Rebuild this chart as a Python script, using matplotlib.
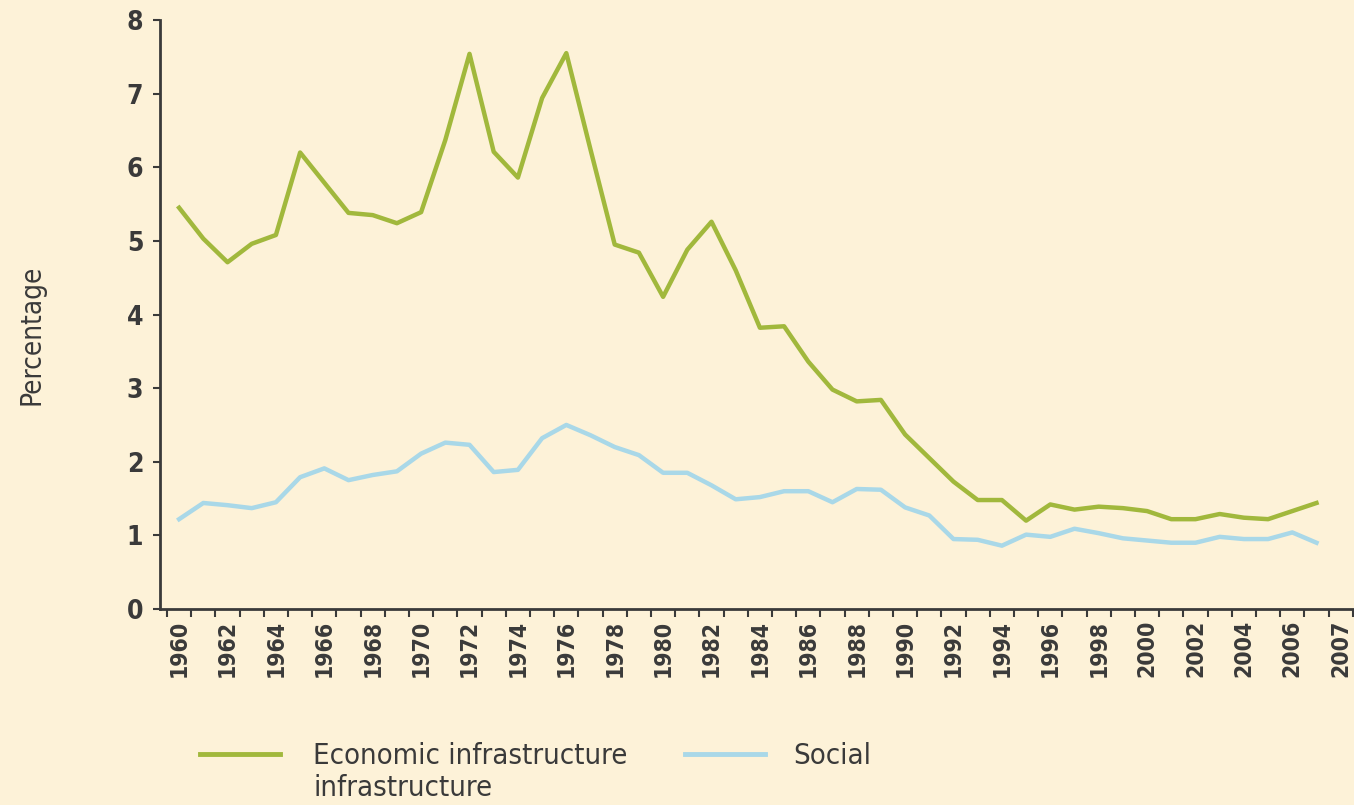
import numpy as np
import matplotlib
matplotlib.use("Agg")
import matplotlib.pyplot as plt
from matplotlib.lines import Line2D

plt.rcParams['font.family'] = ['DejaVu Sans']
plt.rcParams['font.stretch'] = 'condensed'

years = list(range(1960, 2008))
economic = [5.45, 5.03, 4.71, 4.96, 5.08, 6.20, 5.79, 5.38, 5.35, 5.24,
            5.39, 6.37, 7.54, 6.21, 5.86, 6.94, 7.55, 6.24, 4.95, 4.84,
            4.24, 4.88, 5.26, 4.60, 3.82, 3.84, 3.36, 2.98, 2.82, 2.84,
            2.37, 2.05, 1.73, 1.48, 1.48, 1.20, 1.42, 1.35, 1.39, 1.37,
            1.33, 1.22, 1.22, 1.29, 1.24, 1.22, 1.33, 1.44]
social = [1.22, 1.44, 1.41, 1.37, 1.45, 1.79, 1.91, 1.75, 1.82, 1.87,
          2.11, 2.26, 2.23, 1.86, 1.89, 2.32, 2.50, 2.36, 2.20, 2.09,
          1.85, 1.85, 1.68, 1.49, 1.52, 1.60, 1.60, 1.45, 1.63, 1.62,
          1.38, 1.27, 0.95, 0.94, 0.86, 1.01, 0.98, 1.09, 1.03, 0.96,
          0.93, 0.90, 0.90, 0.98, 0.95, 0.95, 1.04, 0.90]

tick_labels = [str(y) for y in range(1960, 2007, 2)] + ["2007"]
tick_pos = list(range(1960, 2007, 2)) + [2008]

labels = ["Economic infrastructure\ninfrastructure", "Social"]
bg = "#fdf2d8"
green = "#a1b83c"
blue = "#a9d8e8"
dark = "#3a3a3a"

W, H = 1354, 805
fig = plt.figure(figsize=(W / 100, H / 100), dpi=100, facecolor=bg)
ax = fig.add_axes([160 / W, 1 - 609 / H, 1 - 160 / W, (609 - 20) / H], facecolor=bg)

ax.plot(years, economic, color=green, lw=3.2)
ax.plot(years, social, color=blue, lw=3.2)

ax.set_ylim(0, 8)
ax.set_xlim(1959.21, 2008.55)
ax.set_yticks(range(0, 9))
ax.set_xticks(tick_pos)
ax.set_xticklabels(tick_labels, rotation=90)
ax.set_xticks(np.arange(1959.5, 2008.6, 1), minor=True)
ax.tick_params(axis='x', which='major', length=0)

for s in ['top', 'right']:
    ax.spines[s].set_visible(False)
for s in ['left', 'bottom']:
    ax.spines[s].set_color(dark)
    ax.spines[s].set_linewidth(2)

ax.tick_params(axis='y', length=5, width=1.5, color=dark, labelsize=19, labelcolor=dark, pad=7)
ax.tick_params(axis='x', which='minor', length=6, width=1.5, color=dark)
ax.tick_params(axis='x', which='major', labelsize=16.5, labelcolor=dark, pad=8)
for t in ax.get_xticklabels() + ax.get_yticklabels():
    t.set_fontweight('bold')

fig.text(32 / W, 1 - 335 / H, "Percentage", rotation=90, ha='center', va='center',
         fontsize=20, color=dark)

# legend drawn by hand so the marker lines up with the first text line
fig.add_artist(Line2D([200 / W, 280 / W], [1 - 754 / H] * 2, color=green, lw=3.5,
                      transform=fig.transFigure))
fig.add_artist(Line2D([685 / W, 765 / W], [1 - 754 / H] * 2, color=blue, lw=3.5,
                      transform=fig.transFigure))
fig.text(313 / W, 1 - 742 / H, labels[0], ha='left', va='top', fontsize=21,
         color=dark, linespacing=1.2)
fig.text(793 / W, 1 - 742 / H, labels[1], ha='left', va='top', fontsize=21, color=dark)

fig.savefig("out.png", dpi=100, facecolor=bg)
